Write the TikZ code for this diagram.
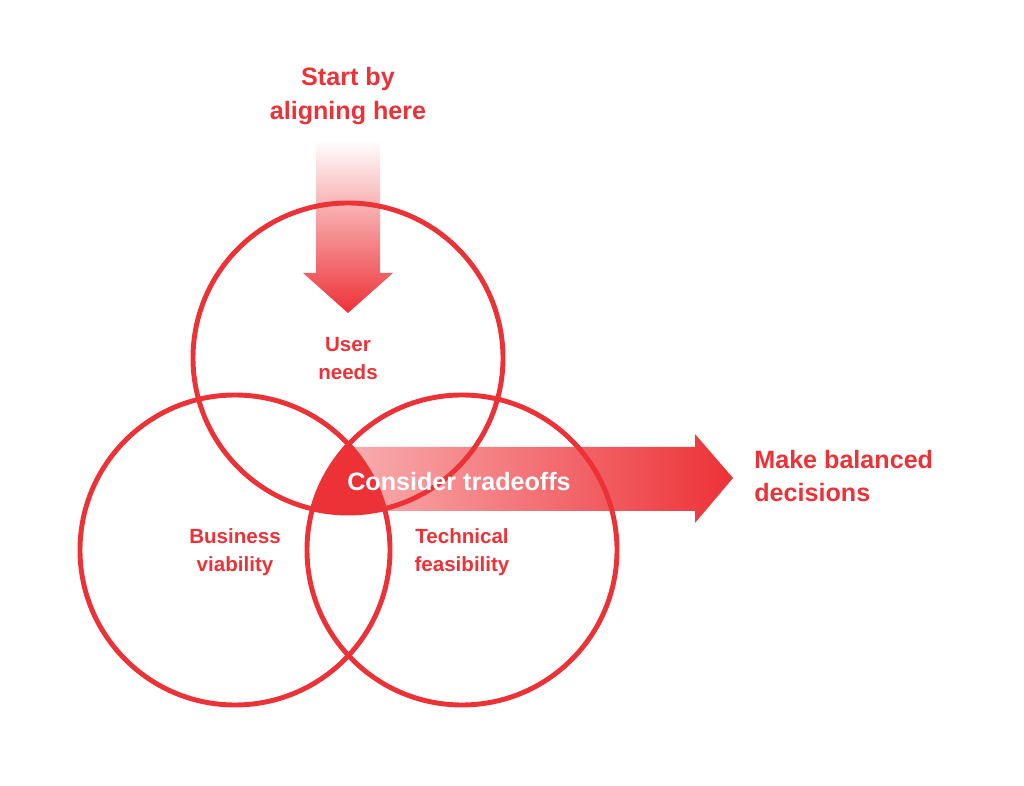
\documentclass[tikz,border=0pt]{standalone}
\usepackage{fontspec}
\setmainfont{Liberation Sans}
\usepackage{tikz}
\usetikzlibrary{positioning}
\definecolor{venred}{RGB}{237,50,55}

\tikzset{
  ring/.style={draw=venred, line width=2.8pt},
  biglabel/.style={text=venred, font=\bfseries\fontsize{14.3}{18.7}\selectfont, align=center, inner sep=0pt},
  smalllabel/.style={text=venred, font=\bfseries\fontsize{11.7}{15.9}\selectfont, align=center, inner sep=0pt},
}

\begin{document}
\begin{tikzpicture}[x=0.02cm, y=-0.02cm]
  \useasboundingbox (0,0) rectangle (1024,786);
  % circle centres
  \coordinate (usr) at (348,358);
  \coordinate (biz) at (235,550);
  \coordinate (tec) at (462,550);
  % arrow from the top
  \shade[top color=white, bottom color=venred]
    (316,140) -- (380,140) -- (380,273) -- (393,273) -- (348,313)
    -- (303,273) -- (316,273) -- cycle;
  % arrow to the right
  \shade[left color=venred!40!white, right color=venred]
    (350,447) -- (695,447) -- (695,434) -- (733,478) -- (695,523)
    -- (695,511) -- (350,511) -- cycle;
  % common part of the three circles
  \begin{scope}
    \clip (usr) circle (155);
    \clip (biz) circle (155);
    \fill[venred] (tec) circle (155);
  \end{scope}
  % rings
  \draw[ring] (usr) circle (155);
  \draw[ring] (biz) circle (155);
  \draw[ring] (tec) circle (155);
  % labels
  \node[biglabel, font=\bfseries\fontsize{14.3}{19.2}\selectfont] (start) at (348,96) {Start by\\aligning here};
  \node[smalllabel] (usrlbl) at (348,359) {User\\needs};
  \node[smalllabel] (bizlbl) at (235,552) {Business\\viability};
  \node[smalllabel] (teclbl) at (462,552) {Technical\\feasibility};
  \node[biglabel, text=white] (trade) at (459,482) {Consider tradeoffs};
  \node[biglabel, align=left, anchor=west] (decide) at (754,476) {Make balanced\\decisions};
\end{tikzpicture}
\end{document}
